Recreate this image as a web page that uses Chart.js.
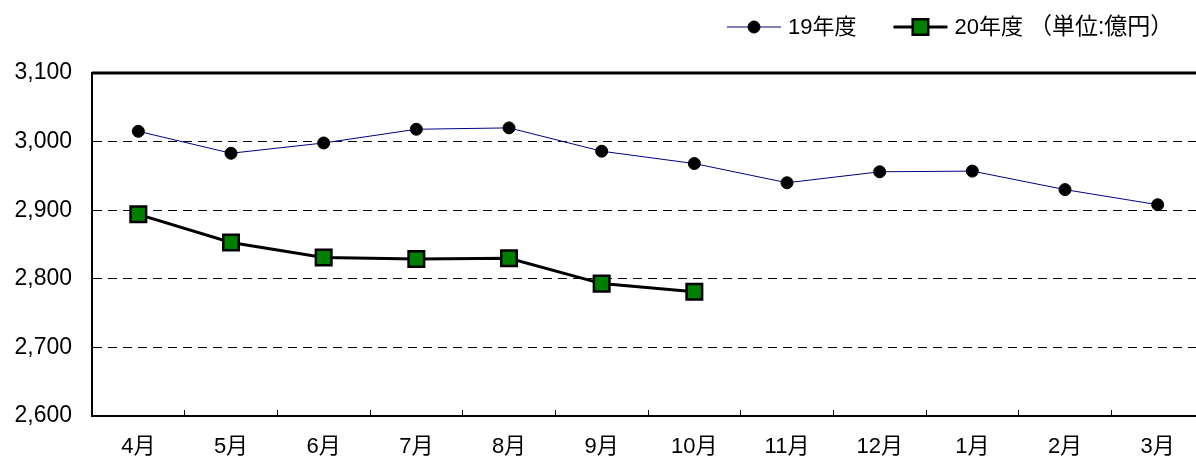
<!DOCTYPE html>
<html>
<head>
<meta charset="utf-8">
<script src="https://cdn.jsdelivr.net/npm/chart.js@4.4.0/dist/chart.umd.min.js"></script>
<style>
  html, body { margin: 0; padding: 0; background: #fff; overflow: hidden; }
  canvas { display: block; }
</style>
</head>
<body>
<canvas id="chart" width="1204" height="462"></canvas>
<script>
const months = ['4月','5月','6月','7月','8月','9月','10月','11月','12月','1月','2月','3月'];
const fy19 = [3015, 2983, 2998, 3018, 3020, 2986, 2968, 2940, 2956, 2957, 2930, 2908];
const fy20 = [2894, 2853, 2831, 2829, 2830, 2793, 2781];
const seriesNames = ['19年度', '20年度'];
const unitLabel = '（単位:億円）';
const yTicks = [2600, 2700, 2800, 2900, 3000, 3100];

const FONT = '"Liberation Sans", "Noto Sans CJK JP", sans-serif';

// legend drawn by hand: line + marker like the spreadsheet original
const legendPlugin = {
  id: 'lineLegend',
  afterDraw(chart) {
    const ctx = chart.ctx;
    const y = 27;
    let x = 727;
    ctx.save();
    ctx.font = '22px ' + FONT;
    ctx.textBaseline = 'middle';
    chart.data.datasets.forEach(ds => {
      ctx.strokeStyle = ds.borderColor;
      ctx.lineWidth = ds.borderWidth;
      ctx.beginPath();
      ctx.moveTo(x, y);
      ctx.lineTo(x + 54, y);
      ctx.stroke();
      ctx.fillStyle = ds.pointBackgroundColor;
      ctx.strokeStyle = ds.pointBorderColor;
      ctx.lineWidth = ds.pointBorderWidth;
      Chart.helpers.drawPoint(ctx, {
        pointStyle: ds.pointStyle, radius: ds.pointRadius,
        borderWidth: ds.pointBorderWidth, rotation: 0
      }, x + 27, y);
      ctx.fillStyle = '#000';
      ctx.fillText(ds.label, x + 61, y + 1);
      x += 61 + ctx.measureText(ds.label).width + 37;
    });
    ctx.font = '23px ' + FONT;
    ctx.fillText(unitLabel, x - 31, y + 1);
    ctx.restore();
  }
};

// thick top border of the plot frame
const framePlugin = {
  id: 'frameTop',
  afterDraw(chart) {
    const { ctx, chartArea } = chart;
    ctx.save();
    ctx.strokeStyle = '#000';
    ctx.lineWidth = 3;
    ctx.beginPath();
    ctx.moveTo(chartArea.left, chartArea.top);
    ctx.lineTo(chartArea.right, chartArea.top);
    ctx.stroke();
    ctx.restore();
  }
};

new Chart(document.getElementById('chart'), {
  type: 'line',
  data: {
    labels: months,
    datasets: [
      {
        label: seriesNames[0],
        data: fy19,
        borderColor: '#000080',
        borderWidth: 1,
        pointStyle: 'circle',
        pointRadius: 6,
        pointBackgroundColor: '#000',
        pointBorderColor: '#000',
        pointBorderWidth: 1,
        tension: 0,
      },
      {
        label: seriesNames[1],
        data: fy20,
        borderColor: '#000',
        borderWidth: 3,
        pointStyle: 'rect',
        pointRadius: 11,
        pointBackgroundColor: '#008000',
        pointBorderColor: '#000',
        pointBorderWidth: 2.5,
        tension: 0,
      }
    ]
  },
  options: {
    responsive: false,
    animation: false,
    layout: { autoPadding: false, padding: { top: 73, left: 0, right: 0, bottom: 0 } },
    plugins: {
      legend: { display: false },
      tooltip: { enabled: false }
    },
    scales: {
      x: {
        offset: true,
        grid: {
          offset: true,
          drawOnChartArea: false,
          drawTicks: true,
          tickLength: -6,
          color: '#000',
          lineWidth: 1,
        },
        border: { color: '#000', width: 2 },
        ticks: { color: '#000', font: { family: FONT, size: 22 }, padding: 24, maxRotation: 0, autoSkip: false },
        afterFit: s => { s.height = 46; }
      },
      y: {
        min: 2600,
        max: 3100,
        afterBuildTicks: s => { s.ticks = yTicks.map(v => ({ value: v })); },
        grid: {
          drawTicks: false,
          color: ctx => (ctx.tick && (ctx.tick.value === 2600 || ctx.tick.value === 3100)) ? 'rgba(0,0,0,0)' : '#000',
          lineWidth: 1,
        },
        border: { color: '#000', width: 2, dash: [9, 6] },
        ticks: {
          color: '#000',
          font: { family: FONT, size: 23 },
          padding: 20,
          callback: v => v.toLocaleString('en-US')
        },
        afterFit: s => { s.width = 92; }
      }
    }
  },
  plugins: [legendPlugin, framePlugin]
});
</script>
</body>
</html>
